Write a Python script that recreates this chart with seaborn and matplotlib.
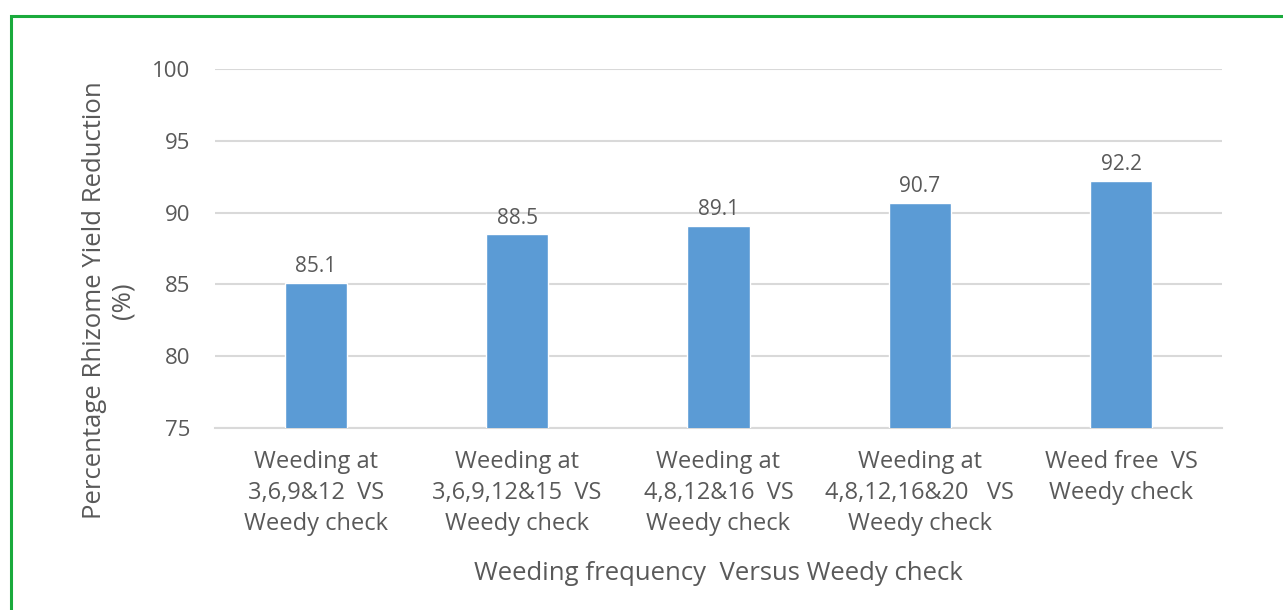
import matplotlib
matplotlib.use("Agg")
import matplotlib.pyplot as plt
import seaborn as sns
import pandas as pd

categories = [
    "Weeding at\n3,6,9&12  VS\nWeedy check",
    "Weeding at\n3,6,9,12&15  VS\nWeedy check",
    "Weeding at\n4,8,12&16  VS\nWeedy check",
    "Weeding at\n4,8,12,16&20   VS\nWeedy check",
    "Weed free  VS\nWeedy check",
]
reduction = [85.1, 88.5, 89.1, 90.7, 92.2]
y_ticks = [75, 80, 85, 90, 95, 100]

df = pd.DataFrame({"treatment": categories, "reduction": reduction})

sns.set_theme(style="white")
plt.rcParams["font.family"] = ["Open Sans", "DejaVu Sans"]
text_color = "#595959"

fig = plt.figure(figsize=(12.83, 6.10), dpi=100)
ax = fig.add_axes([0.1676, 0.2984, 0.9524 - 0.1676, 0.8869 - 0.2984])

sns.barplot(data=df, x="treatment", y="reduction", color="#5B9BD5",
            width=0.31, saturation=1, ax=ax, zorder=3)

ax.set_ylim(75, 100)
ax.set_yticks(y_ticks)
ax.set_xlim(-0.5, len(categories) - 0.5)
ax.grid(axis="y", color="#D9D9D9", linewidth=1.5, zorder=0)
ax.grid(axis="x", visible=False)
for side in ["top", "right", "left"]:
    ax.spines[side].set_visible(False)
ax.spines["bottom"].set_color("#D9D9D9")
ax.spines["bottom"].set_linewidth(1.5)
ax.tick_params(axis="both", length=0, colors=text_color)
ax.tick_params(axis="y", labelsize=16, pad=18)
ax.tick_params(axis="x", labelsize=17, pad=16)
for lbl in ax.get_xticklabels():
    lbl.set_linespacing(1.38)

for container in ax.containers:
    ax.bar_label(container, labels=[f"{v:.1f}" for v in reduction],
                 padding=4, fontsize=15, color=text_color, zorder=4)

ax.set_xlabel("Weeding frequency  Versus Weedy check", fontsize=18.5,
              color=text_color, labelpad=18)
ax.set_ylabel("Percentage Rhizome Yield Reduction\n(%)", fontsize=18.5,
              color=text_color, linespacing=1.2)
ax.yaxis.set_label_coords(-0.079, 0.355)

# green frame around the chart area
frame = plt.Rectangle((11 / 1283, -0.05), 1.2, 1 - 16 / 610 + 0.05,
                      transform=fig.transFigure, fill=False,
                      edgecolor="#1AAA3C", linewidth=2.2)
fig.add_artist(frame)

fig.savefig("out.png", dpi=100, facecolor="white")
